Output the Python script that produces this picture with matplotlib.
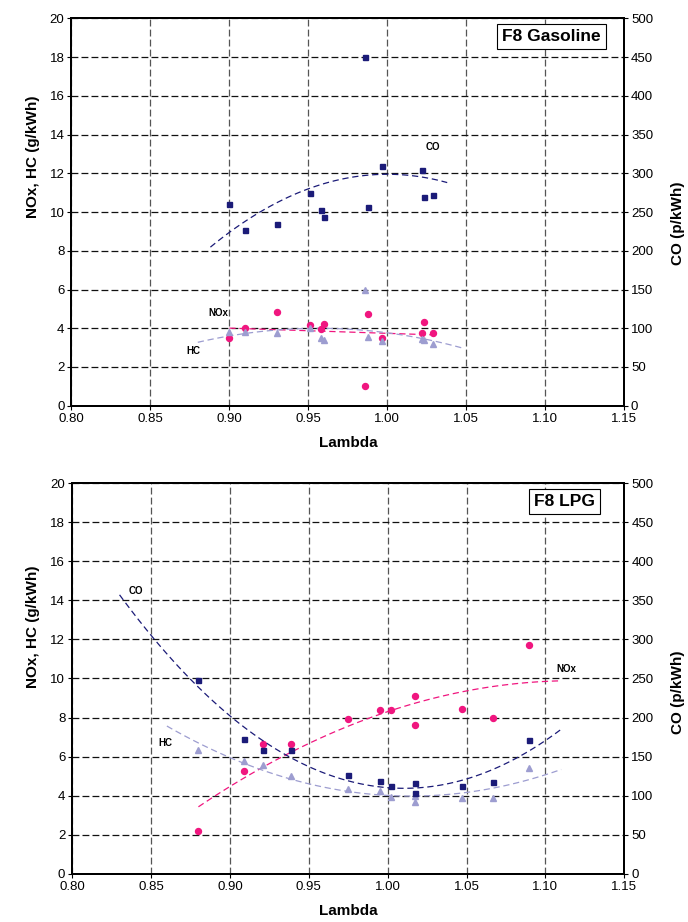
import numpy as np
import matplotlib
matplotlib.use("Agg")
import matplotlib.pyplot as plt

plt.rcParams['font.family'] = ['Liberation Sans', 'DejaVu Sans']

# ---- F8 Gasoline data ----
gas_lambda = [0.900, 0.910, 0.930, 0.951, 0.958, 0.960, 0.986, 0.988, 0.997, 1.022, 1.023, 1.029]
gas_co = [261, 227, 234, 274, 253, 243, 450, 256, 310, 304, 269, 272]          # p/kWh
gas_nox = [3.47, 3.99, 4.85, 4.19, 3.94, 4.21, 1.03, 4.76, 3.51, 3.76, 4.30, 3.76]  # g/kWh
gas_hc = [3.78, 3.81, 3.76, 3.99, 3.47, 3.39, 5.96, 3.56, 3.34, 3.42, 3.37, 3.20]   # g/kWh

# ---- F8 LPG data ----
lpg_lambda = [0.880, 0.909, 0.921, 0.9385, 0.975, 0.995, 1.002, 1.017, 1.017, 1.047, 1.067, 1.0896]
lpg_co = [248, 173, 159, 159, 127, 119, 112, 116, 104, 112, 117, 171]
lpg_nox = [2.18, 5.27, 6.65, 6.63, 7.91, 8.39, 8.39, 9.12, 7.61, 8.44, 8.00, 11.70]
lpg_hc = [6.34, 5.78, 5.56, 5.01, 4.35, 4.25, 3.96, 3.99, 3.70, 3.87, 3.87, 5.44]

x_ticks = [0.80, 0.85, 0.90, 0.95, 1.00, 1.05, 1.10, 1.15]

C_CO = '#1b1b78'
C_NOX = '#f0167f'
C_HC = '#9d9dd0'


def trend(ax, x, y, lo, hi, color, order=2, lw=0.9):
    # excel-style polynomial trendline, extended past the data
    p = np.polyfit(x, y, order)
    xs = np.linspace(lo, hi, 100)
    ax.plot(xs, np.polyval(p, xs), ls=(0, (5, 3)), color=color, lw=lw, zorder=3)


def setup(ax, ax2):
    ax.set_xlim(0.80, 1.15)
    ax.set_ylim(0, 20)
    ax.set_xticks(x_ticks)
    ax.set_xticklabels([f"{t:.2f}" for t in x_ticks])
    ax.set_yticks(range(0, 21, 2))
    ax2.set_ylim(0, 500)
    ax2.set_yticks(range(0, 501, 50))
    ax.grid(True, axis='y', color='#111111', ls=(0, (5.5, 2.5)), lw=0.9)
    ax.grid(True, axis='x', color='#555555', ls=(0, (5.5, 2.5)), lw=0.9)
    for a in (ax, ax2):
        a.tick_params(direction='out', length=3, width=0.8, labelsize=9.5, pad=2)
        for s in a.spines.values():
            s.set_linewidth(1.4)


fig = plt.figure(figsize=(6.88, 9.22), dpi=100)

# ---------------- top: gasoline ----------------
ax = fig.add_axes([0.1039, 0.560, 0.8031, 0.420])
ax2 = ax.twinx()
setup(ax, ax2)
trend(ax2, gas_lambda, gas_co, 0.888, 1.038, C_CO)
trend(ax, gas_lambda, gas_nox, 0.900, 1.029, C_NOX, order=1)
trend(ax, gas_lambda, gas_hc, 0.880, 1.049, C_HC)
ax.plot(gas_lambda, gas_nox, 'o', color=C_NOX, ms=4.3, zorder=4)
ax.plot(gas_lambda, gas_hc, '^', color=C_HC, ms=4.5, zorder=4)
ax2.plot(gas_lambda, gas_co, 's', color=C_CO, ms=3.6, zorder=4)
ax.text(1.0288, 13.35, 'CO', fontsize=7, fontweight='bold', ha='center', va='center')
ax.text(0.893, 4.78, 'NOx', fontsize=7, fontweight='bold', ha='center', va='center')
ax.text(0.877, 2.82, 'HC', fontsize=7, fontweight='bold', ha='center', va='center')
ax.text(0.869, 0.953, 'F8 Gasoline', transform=ax.transAxes, fontsize=12.5,
        fontweight='bold', ha='center', va='center',
        bbox=dict(boxstyle='square,pad=0.3', facecolor='white', edgecolor='black', lw=0.8))

# ---------------- bottom: LPG ----------------
bx = fig.add_axes([0.105, 0.0521, 0.8024, 0.424])
bx2 = bx.twinx()
setup(bx, bx2)
trend(bx2, lpg_lambda, lpg_co, 0.830, 1.110, C_CO)
trend(bx, lpg_lambda, lpg_nox, 0.880, 1.110, C_NOX)
trend(bx, lpg_lambda, lpg_hc, 0.860, 1.110, C_HC)
bx.plot(lpg_lambda, lpg_nox, 'o', color=C_NOX, ms=4.3, zorder=4)
bx.plot(lpg_lambda, lpg_hc, '^', color=C_HC, ms=4.5, zorder=4)
bx2.plot(lpg_lambda, lpg_co, 's', color=C_CO, ms=3.6, zorder=4)
bx.text(0.8403, 14.48, 'CO', fontsize=7, fontweight='bold', ha='center', va='center')
bx.text(0.859, 6.69, 'HC', fontsize=7, fontweight='bold', ha='center', va='center')
bx.text(1.113, 10.47, 'NOx', fontsize=7, fontweight='bold', ha='center', va='center')
bx.text(0.892, 0.953, 'F8 LPG', transform=bx.transAxes, fontsize=12.5,
        fontweight='bold', ha='center', va='center',
        bbox=dict(boxstyle='square,pad=0.3', facecolor='white', edgecolor='black', lw=0.8))

# axis titles
lab = dict(fontsize=11, fontweight='bold', ha='center', va='center')
fig.text(0.048, 0.830, 'NOx, HC (g/kWh)', rotation=90, **lab)
fig.text(0.986, 0.758, 'CO (p/kWh)', rotation=90, **lab)
fig.text(0.506, 0.519, 'Lambda', **lab)
fig.text(0.048, 0.320, 'NOx, HC (g/kWh)', rotation=90, **lab)
fig.text(0.986, 0.249, 'CO (p/kWh)', rotation=90, **lab)
fig.text(0.506, 0.012, 'Lambda', **lab)

fig.savefig('out.png', dpi=100)
